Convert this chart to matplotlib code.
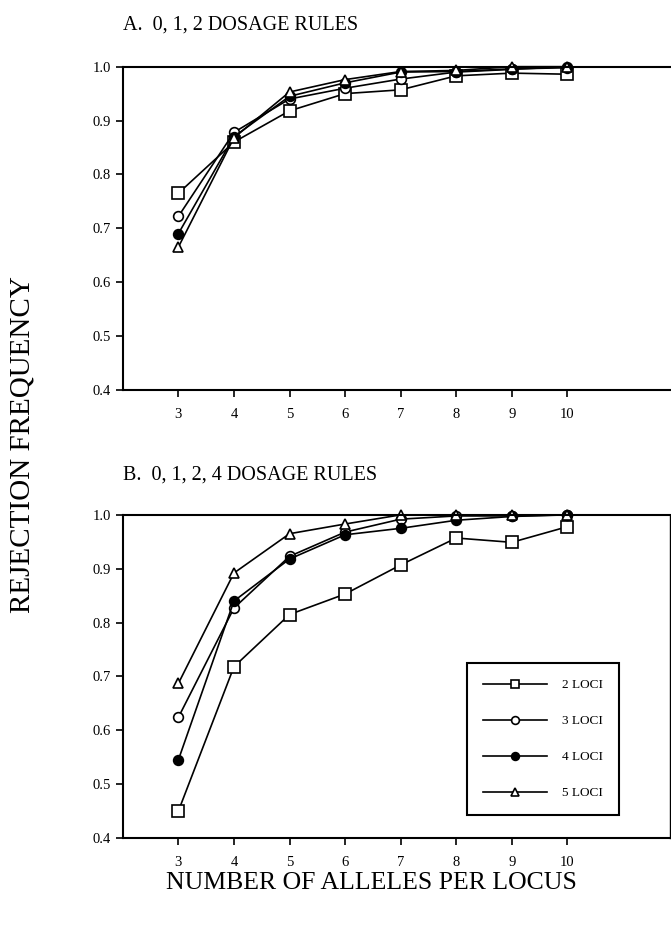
import matplotlib
matplotlib.use("Agg")

import matplotlib.pyplot as plt

plt.rcParams["font.family"] = ["Liberation Serif", "DejaVu Serif"]

alleles = [3, 4, 5, 6, 7, 8, 9, 10]
loci_labels = ["2 LOCI", "3 LOCI", "4 LOCI", "5 LOCI"]

# panel A: 0, 1, 2 dosage rules
a_2loci = [0.765, 0.860, 0.918, 0.950, 0.957, 0.983, 0.988, 0.986]
a_3loci = [0.722, 0.878, 0.940, 0.960, 0.977, 0.990, 0.995, 1.000]
a_4loci = [0.690, 0.870, 0.945, 0.970, 0.990, 0.991, 0.996, 0.998]
a_5loci = [0.665, 0.868, 0.953, 0.976, 0.991, 0.993, 1.000, 1.000]

# panel B: 0, 1, 2, 4 dosage rules
b_2loci = [0.450, 0.718, 0.815, 0.853, 0.907, 0.957, 0.949, 0.978]
b_3loci = [0.624, 0.827, 0.923, 0.968, 0.992, 0.998, 0.998, 1.000]
b_4loci = [0.545, 0.840, 0.918, 0.963, 0.975, 0.990, 0.997, 1.000]
b_5loci = [0.687, 0.892, 0.965, 0.983, 1.000, 1.000, 1.000, 1.000]

styles = [
    dict(marker="s", mfc="white", ms=8),
    dict(marker="o", mfc="white", ms=7),
    dict(marker="o", mfc="black", ms=7),
    dict(marker="^", mfc="white", ms=7),
]

fig = plt.figure(figsize=(6.71, 9.26), dpi=100)
ax_a = fig.add_axes([0.183, 0.579, 0.815, 0.349])
ax_b = fig.add_axes([0.183, 0.095, 0.815, 0.349])


def setup(ax, title, title_y):
    ax.set_xlim(2, 11.84)
    ax.set_ylim(0.4, 1.0)
    ax.set_xticks(alleles)
    ax.set_yticks([0.4, 0.5, 0.6, 0.7, 0.8, 0.9, 1.0])
    ax.set_yticklabels(["0.4", "0.5", "0.6", "0.7", "0.8", "0.9", "1.0"])
    ax.tick_params(axis="both", direction="out", length=5, width=1.2,
                   labelsize=10.5)
    ax.tick_params(axis="x", pad=8)
    for s in ["left", "bottom", "top"]:
        ax.spines[s].set_linewidth(1.5)
    ax.spines["right"].set_linewidth(1.0)
    ax.text(0.0, title_y, title, transform=ax.transAxes, fontsize=14.5,
            ha="left", va="center")


setup(ax_a, "A.  0, 1, 2 DOSAGE RULES", 1.13)
setup(ax_b, "B.  0, 1, 2, 4 DOSAGE RULES", 1.124)
ax_a.spines["right"].set_visible(False)

for ys, st in zip([a_2loci, a_3loci, a_4loci, a_5loci], styles):
    ax_a.plot(alleles, ys, color="black", lw=1.2, mec="black", mew=1.2,
              clip_on=False, **st)

for ys, st, lab in zip([b_2loci, b_3loci, b_4loci, b_5loci], styles, loci_labels):
    ax_b.plot(alleles, ys, color="black", lw=1.2, mec="black", mew=1.2,
              clip_on=False, label=lab, **st)

leg = ax_b.legend(loc="lower left", bbox_to_anchor=(0.629, 0.071),
                  fontsize=9.5, handlelength=4.9, labelspacing=1.8,
                  borderpad=1.2, handletextpad=1.15, borderaxespad=0,
                  fancybox=False, framealpha=1, edgecolor="black",
                  markerscale=0.8)
leg.get_frame().set_linewidth(1.5)

fig.text(0.034, 0.52, "REJECTION FREQUENCY", rotation=90, fontsize=21,
         ha="center", va="center")
fig.text(0.553, 0.046, "NUMBER OF ALLELES PER LOCUS", fontsize=18.5,
         ha="center", va="center")

fig.savefig("out.png", dpi=100)
